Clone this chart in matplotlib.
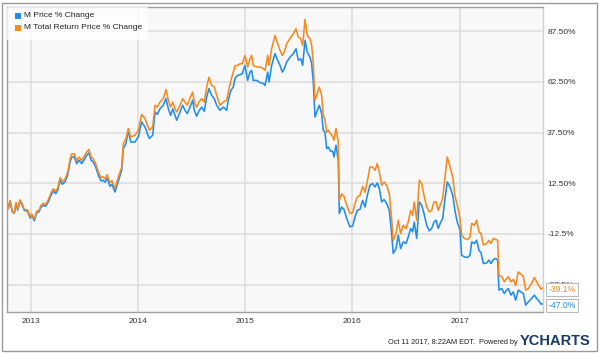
import matplotlib
matplotlib.use("Agg")
import matplotlib.pyplot as plt
from matplotlib.patches import Rectangle

plt.rcParams['font.family'] = ['Liberation Sans', 'DejaVu Sans']

# decimal years
t = [2012.778, 2012.790, 2012.806, 2012.827, 2012.846, 2012.862, 2012.878, 2012.899, 2012.921, 2012.939,
     2012.971, 2012.993, 2013.008, 2013.033, 2013.055, 2013.076, 2013.095, 2013.117, 2013.139, 2013.163,
     2013.188, 2013.210, 2013.232, 2013.251, 2013.273, 2013.294, 2013.319, 2013.344, 2013.366, 2013.382,
     2013.406, 2013.428, 2013.450, 2013.475, 2013.499, 2013.521, 2013.543, 2013.562, 2013.583, 2013.605,
     2013.630, 2013.655, 2013.676, 2013.692, 2013.711, 2013.739, 2013.757, 2013.785, 2013.804, 2013.825,
     2013.848, 2013.863, 2013.888, 2013.909, 2013.932, 2013.972, 2014.003, 2014.034, 2014.065, 2014.105,
     2014.137, 2014.159, 2014.180, 2014.205, 2014.236, 2014.261, 2014.283, 2014.305, 2014.324, 2014.345,
     2014.361, 2014.392, 2014.417, 2014.438, 2014.460, 2014.485, 2014.510, 2014.525, 2014.547, 2014.569,
     2014.594, 2014.618, 2014.641, 2014.662, 2014.687, 2014.711, 2014.734, 2014.765, 2014.796, 2014.827,
     2014.842, 2014.867, 2014.889, 2014.905, 2014.930, 2014.951, 2014.973, 2014.998, 2015.023, 2015.045,
     2015.060, 2015.075, 2015.107, 2015.138, 2015.169, 2015.185, 2015.210, 2015.222, 2015.247, 2015.278,
     2015.303, 2015.325, 2015.346, 2015.365, 2015.387, 2015.418, 2015.449, 2015.474, 2015.495, 2015.518,
     2015.536, 2015.558, 2015.579, 2015.604, 2015.620, 2015.635, 2015.651, 2015.667, 2015.691, 2015.713,
     2015.728, 2015.744, 2015.760, 2015.775, 2015.797, 2015.816, 2015.828, 2015.847, 2015.868, 2015.878,
     2015.900, 2015.921, 2015.947, 2015.977, 2016.003, 2016.024, 2016.046, 2016.071, 2016.096, 2016.118,
     2016.139, 2016.164, 2016.189, 2016.211, 2016.232, 2016.251, 2016.273, 2016.295, 2016.320, 2016.344,
     2016.366, 2016.381, 2016.407, 2016.428, 2016.450, 2016.475, 2016.500, 2016.521, 2016.544, 2016.562,
     2016.577, 2016.600, 2016.624, 2016.646, 2016.668, 2016.693, 2016.717, 2016.739, 2016.761, 2016.780,
     2016.801, 2016.824, 2016.842, 2016.864, 2016.885, 2016.910, 2016.936, 2016.957, 2016.978, 2017.004,
     2017.019, 2017.044, 2017.075, 2017.097, 2017.113, 2017.137, 2017.159, 2017.181, 2017.200, 2017.221,
     2017.253, 2017.274, 2017.293, 2017.315, 2017.337, 2017.355, 2017.367, 2017.393, 2017.417, 2017.439,
     2017.454, 2017.479, 2017.501, 2017.523, 2017.547, 2017.573, 2017.595, 2017.616, 2017.641, 2017.672,
     2017.697, 2017.719, 2017.734, 2017.759, 2017.778]

price_change = [0, 0, 3.8, -1.6, -2.3, 2.6, -0.8, 3.8, 1.7, -0.8,
                -1.3, -4.7, -3.3, -6.0, -2.1, -1.6, 0.7, 1.7, 1.2, 3.3,
                6.6, 8.7, 7.4, 9.0, 14.0, 12.0, 13.2, 16.5, 23.0, 25.5,
                25.5, 22.2, 23.9, 22.2, 24.2, 26.3, 27.5, 23.9, 23.0, 20.6,
                16.5, 13.7, 14.0, 13.0, 15.0, 11.0, 12.0, 8.2, 11.5, 15.0,
                19.0, 29.6, 32.1, 38.7, 32.9, 32.9, 35.4, 42.8, 40.3, 34.6,
                36.2, 47.7, 46.5, 49.3, 51.0, 54.3, 49.3, 46.0, 49.3, 46.0,
                43.6, 47.7, 51.0, 48.5, 46.9, 50.1, 53.5, 48.5, 45.6, 48.2,
                50.1, 48.0, 55.1, 59.2, 55.9, 54.3, 51.0, 48.5, 50.1, 48.5,
                53.5, 58.4, 60.0, 64.2, 65.8, 66.1, 66.6, 70.7, 63.3, 67.4,
                68.2, 63.3, 63.3, 62.2, 61.7, 60.8, 67.4, 62.5, 70.7, 76.5,
                73.2, 70.7, 67.4, 69.1, 72.3, 74.8, 76.5, 78.9, 73.2, 74.0,
                70.7, 83.0, 77.3, 74.8, 71.5, 62.5, 45.2, 47.7, 51.0, 46.9,
                38.7, 37.8, 29.6, 30.4, 28.3, 28.3, 25.5, 31.3, 23.9, -2.4,
                0.8, -0.3, -4.9, -9.0, -8.5, -4.1, -0.8, -0.3, 4.1, 0.8,
                6.6, 11.5, 12.4, 10.7, 12.7, 9.9, 3.3, 4.5, 2.5, -0.8,
                -12.3, -22.1, -19.7, -13.1, -19.7, -16.4, -17.2, -14.0, -9.8, -11.5,
                -6.6, -14.7, 3.3, 1.7, -2.4, -8.2, -11.0, -9.8, -6.6, -5.7,
                -9.8, -6.6, -4.9, 5.0, 13.2, 10.7, 6.6, -1.2, -6.5, -10.6,
                -23.0, -23.8, -24.1, -23.0, -16.4, -17.2, -15.6, -20.5, -21.8, -27.1,
                -26.8, -25.4, -27.1, -25.1, -24.6, -25.4, -40.2, -39.4, -41.9, -40.2,
                -39.4, -42.7, -41.1, -45.2, -40.2, -41.1, -41.9, -47.6, -46.0, -44.3,
                -42.7, -44.3, -45.2, -47.1, -47.0]

total_return_change = [0, 0, 4.0, -1.4, -2.0, 3.0, -0.4, 4.3, 2.2, -0.3,
                       -0.7, -4.0, -2.6, -5.2, -1.3, -0.8, 1.6, 2.6, 2.2, 4.3,
                       7.7, 9.8, 8.5, 10.2, 15.3, 13.3, 14.5, 17.9, 24.4, 27.0,
                       27.0, 23.7, 25.4, 23.7, 25.8, 28.0, 29.2, 25.6, 24.6, 22.2,
                       18.1, 15.3, 15.7, 14.7, 16.8, 12.8, 13.8, 10.0, 13.4, 16.9,
                       20.5, 32.1, 34.6, 39.5, 35.4, 36.2, 38.7, 46.5, 44.4, 38.7,
                       40.3, 51.0, 50.1, 52.6, 54.3, 58.7, 53.5, 50.1, 52.6, 49.3,
                       47.7, 51.0, 54.3, 52.6, 51.0, 54.5, 57.5, 52.6, 50.1, 52.6,
                       54.3, 52.6, 60.0, 64.9, 60.8, 60.0, 55.9, 51.0, 52.6, 53.5,
                       57.5, 63.3, 67.4, 70.5, 70.7, 71.5, 71.5, 75.6, 69.9, 74.0,
                       75.6, 70.7, 69.9, 69.9, 69.1, 68.2, 75.6, 70.7, 78.9, 85.5,
                       81.4, 78.1, 75.6, 77.3, 81.4, 83.9, 86.3, 88.8, 84.7, 83.9,
                       80.6, 93.4, 85.5, 83.9, 80.6, 71.5, 53.5, 55.9, 60.0, 55.9,
                       46.0, 44.0, 37.8, 38.7, 37.0, 35.5, 33.7, 39.5, 32.9, 4.0,
                       7.3, 6.2, 1.7, -2.4, -2.0, 2.5, 5.8, 6.5, 11.0, 8.0,
                       13.5, 20.6, 20.5, 18.9, 22.2, 18.1, 11.5, 13.2, 11.5, 7.4,
                       -4.9, -15.6, -12.3, -5.7, -12.3, -8.2, -9.8, -6.6, -0.8, -3.3,
                       3.3, -5.7, 14.0, 12.4, 6.6, 0.8, -1.6, -0.8, 3.3, 3.3,
                       -0.8, 2.5, 5.0, 15.6, 25.5, 20.6, 15.6, 6.0, 2.0, -5.0,
                       -13.1, -14.7, -15.2, -14.0, -7.3, -8.2, -5.7, -11.5, -12.3, -18.0,
                       -17.2, -15.6, -17.2, -14.7, -15.2, -15.6, -32.8, -33.6, -36.1, -34.5,
                       -33.6, -36.1, -34.9, -38.0, -31.2, -32.3, -33.6, -40.2, -39.4, -36.9,
                       -34.0, -36.1, -37.5, -39.8, -39.1]

series_names = ["M Price % Change", "M Total Return Price % Change"]
year_ticks = [2013, 2014, 2015, 2016, 2017]
year_labels = ["2013", "2014", "2015", "2016", "2017"]
y_ticks = [87.5, 62.5, 37.5, 12.5, -12.5, -37.5]
y_labels = ["87.50%", "62.50%", "37.50%", "12.50%", "-12.5%", "-37.5%"]
end_labels = ["-47.0%", "-39.1%"]

BLUE = '#1f8ded'
ORANGE = '#f7891f'

W, H = 600, 353
fig = plt.figure(figsize=(W / 100, H / 100), dpi=100)
fig.patch.set_facecolor('white')

# outer frame
fig.add_artist(Rectangle((2 / W, 2 / H), 595 / W, 348 / H, transform=fig.transFigure,
                         fill=False, edgecolor='#9a9a9a', linewidth=1.0))

ax = fig.add_axes([7 / W, 1 - 312 / H, 536 / W, 305 / H])
ax.set_facecolor('#f8f8f8')

ax.plot(t, price_change, color=BLUE, lw=1.15, zorder=3, solid_joinstyle='round')
ax.plot(t, total_return_change, color=ORANGE, lw=1.15, zorder=3, solid_joinstyle='round')

ax.set_xlim(2012.778, 2017.778)
ax.set_ylim(-51.0, 99.5)

ax.set_xticks(year_ticks)
ax.set_xticklabels(year_labels, fontsize=6, color='#333333')
ax.set_yticks(y_ticks)
ax.set_yticklabels(y_labels, fontsize=6, color='#333333')
ax.yaxis.tick_right()
ax.tick_params(axis='both', length=0)
ax.tick_params(axis='y', pad=3)
ax.tick_params(axis='x', pad=4)
ax.grid(True, color='#dedede', linewidth=1.2)
ax.set_axisbelow(True)

for s in ['left', 'top', 'bottom']:
    ax.spines[s].set_color('#a0a0a0')
    ax.spines[s].set_linewidth(1.0)
ax.spines['right'].set_color('#cfcfcf')
ax.spines['right'].set_linewidth(1.0)

# legend
ax.add_patch(Rectangle((0, 1 - 33 / 305), 141 / 536, 33 / 305, transform=ax.transAxes,
                       facecolor='white', alpha=0.75, edgecolor='none', zorder=4))
for i, (name, col) in enumerate(zip(series_names, [BLUE, ORANGE])):
    yy = 1 - (9 + 12 * i) / 305
    ax.add_patch(Rectangle((8 / 536, yy - 2.6 / 305), 5.5 / 536, 5.5 / 305, transform=ax.transAxes,
                           facecolor=col, edgecolor='none', zorder=5))
    ax.text(17 / 536, yy, name, transform=ax.transAxes, fontsize=6, color='#222222',
            va='center', ha='left', zorder=5)

# end value labels
for val, col in zip([price_change[-1], total_return_change[-1]], [BLUE, ORANGE]):
    lbl = end_labels[0] if col == BLUE else end_labels[1]
    ax.annotate(lbl, xy=(1, val), xycoords=('axes fraction', 'data'),
                xytext=(4, -1.0 if col == BLUE else -1.0), textcoords='offset points',
                fontsize=6.2, color=col, va='center', ha='left', annotation_clip=False,
                bbox=dict(boxstyle='square,pad=0.25', facecolor='white', edgecolor='#bbbbbb', lw=0.8),
                zorder=6)

# footer
fig.text(518 / W, 1 - 342 / H, "Oct 11 2017, 8:22AM EDT.  Powered by", fontsize=5.3,
         color='#222222', ha='right', va='center')
fig.text(520 / W, 1 - 341 / H, "YCHARTS", fontsize=10.5, fontweight='bold',
         color='#163a66', ha='left', va='center')

fig.savefig('out.png', dpi=100, facecolor='white')
